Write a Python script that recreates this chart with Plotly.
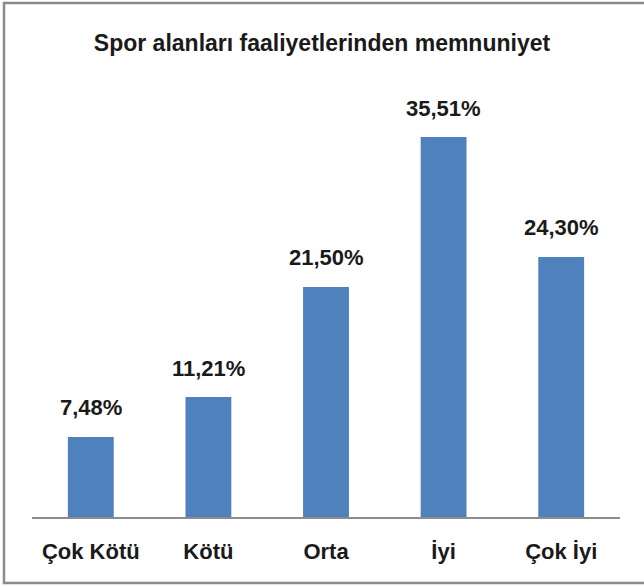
import plotly.graph_objects as go

categories = ["Çok Kötü", "Kötü", "Orta", "İyi", "Çok İyi"]
values = [7.48, 11.21, 21.50, 35.51, 24.30]
labels = [f"{v:.2f}".replace(".", ",") + "%" for v in values]

W, H = 644, 586
ml, mr, mt, mb = 32, 24, 89, 69
pw, ph = W - ml - mr, H - mt - mb

FONT = "Liberation Sans, Arial, sans-serif"

fig = go.Figure()
fig.add_trace(go.Bar(
    x=categories, y=values,
    marker=dict(color="#4F81BD", line=dict(width=0)),
    width=0.39,
    hoverinfo="skip",
))

for c, v, t in zip(categories, values, labels):
    fig.add_annotation(x=c, y=v, text=f"<b>{t}</b>", showarrow=False, yanchor="middle",
                       yshift=29, font=dict(family=FONT, size=22, color="#1a1a1a"))

def px2paper_x(px):
    return (px - ml) / pw

def px2paper_y(py):
    return (H - mb - py) / ph

fig.add_shape(type="rect", xref="paper", yref="paper",
              x0=px2paper_x(4), x1=px2paper_x(646),
              y0=px2paper_y(583), y1=px2paper_y(3),
              line=dict(color="#8c8c8c", width=2.5), fillcolor="rgba(0,0,0,0)", layer="below")

fig.update_layout(
    width=W, height=H,
    margin=dict(l=ml, r=mr, t=mt, b=mb, pad=0),
    paper_bgcolor="white", plot_bgcolor="white",
    showlegend=False,
    title=dict(text="<b>Spor alanları faaliyetlerinden memnuniyet</b>",
               x=0.5, xanchor="center", xref="container",
               y=1 - 43 / H, yanchor="middle", yref="container",
               font=dict(family=FONT, size=23, color="#1a1a1a")),
    font=dict(family=FONT, color="#1a1a1a"),
)
fig.update_xaxes(
    showline=True, linecolor="#8c8c8c", linewidth=1.5,
    ticks="", showgrid=False, zeroline=False,
    tickfont=dict(family=FONT, size=22, color="#1a1a1a"),
    ticklabelstandoff=14,
    tickprefix="<b>", ticksuffix="</b>",
)
fig.update_yaxes(range=[0, 40], visible=False, showgrid=False, zeroline=False)

fig.write_html("out.html", config={"displayModeBar": False, "staticPlot": True},
               post_script="document.body.style.margin='0';document.body.style.padding='0';")
